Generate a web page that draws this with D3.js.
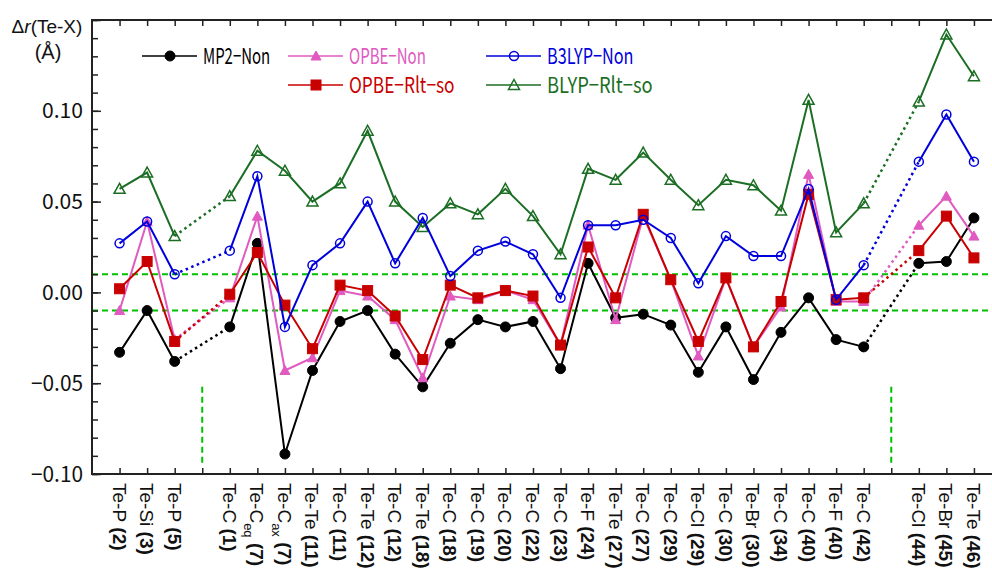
<!DOCTYPE html>
<html>
<head>
<meta charset="utf-8">
<script src="https://cdn.jsdelivr.net/npm/d3@7"></script>
<style>
  body { margin: 0; background: #fff; }
  svg { display: block; }
</style>
</head>
<body>
<svg id="chart"></svg>
<script>
// category labels, "" marks the empty slots between the groups, "_" starts a subscript
var labels = ["Te-P (2)", "Te-Si (3)", "Te-P (5)", "",
  "Te-C (1)", "Te-C_eq (7)", "Te-C_ax (7)", "Te-Te (11)", "Te-C (11)", "Te-Te (12)",
  "Te-C (12)", "Te-Te (18)", "Te-C (18)", "Te-C (19)", "Te-C (20)", "Te-C (22)",
  "Te-C (23)", "Te-F (24)", "Te-Te (27)", "Te-C (27)", "Te-C (29)", "Te-Cl (29)",
  "Te-C (30)", "Te-Br (30)", "Te-C (34)", "Te-C (40)", "Te-F (40)", "Te-C (42)", "",
  "Te-Cl (44)", "Te-Br (45)", "Te-Te (46)"];

var mp2Non = [-0.033, -0.010, -0.038, null, -0.019, 0.027, -0.089, -0.043, -0.016, -0.010,
  -0.034, -0.052, -0.028, -0.015, -0.019, -0.016, -0.042, 0.016, -0.014, -0.012, -0.018,
  -0.044, -0.019, -0.048, -0.022, -0.003, -0.026, -0.030, null, 0.016, 0.017, 0.041];

var opbeNon = [-0.010, 0.039, -0.026, null, -0.003, 0.042, -0.043, -0.036, 0.001, -0.002,
  -0.015, -0.047, -0.002, -0.004, 0.001, -0.004, -0.029, 0.037, -0.015, 0.042, 0.007,
  -0.035, 0.008, -0.030, -0.008, 0.065, -0.005, -0.005, null, 0.037, 0.053, 0.031];

var opbeRlt = [0.002, 0.017, -0.027, null, -0.001, 0.022, -0.007, -0.031, 0.004, 0.001,
  -0.013, -0.037, 0.004, -0.003, 0.001, -0.002, -0.029, 0.025, -0.003, 0.043, 0.007,
  -0.027, 0.008, -0.030, -0.005, 0.054, -0.004, -0.003, null, 0.023, 0.042, 0.019];

var b3lypNon = [0.027, 0.039, 0.010, null, 0.023, 0.064, -0.019, 0.015, 0.027, 0.050,
  0.016, 0.041, 0.009, 0.023, 0.028, 0.021, -0.003, 0.037, 0.037, 0.040, 0.030,
  0.005, 0.031, 0.020, 0.020, 0.057, -0.004, 0.015, null, 0.072, 0.098, 0.072];

var blypRlt = [0.057, 0.066, 0.031, null, 0.053, 0.078, 0.067, 0.050, 0.060, 0.089,
  0.050, 0.036, 0.049, 0.043, 0.057, 0.042, 0.021, 0.068, 0.062, 0.077, 0.062,
  0.048, 0.062, 0.059, 0.045, 0.106, 0.033, 0.049, null, 0.105, 0.142, 0.119];

var yTicks = [-0.10, -0.05, 0.00, 0.05, 0.10];
var yTickLabels = ["-0.10", "-0.05", "0.00", "0.05", "0.10"];
var refLines = [0.01, -0.01];
var gapSlots = [3, 28];

// series in drawing order (bottom first)
var series = [
  {name: "BLYP-Rlt-so", values: blypRlt, color: "#1b6e23", marker: "triangle", open: true, lx: 486, ly: 85},
  {name: "MP2-Non", values: mp2Non, color: "#000000", marker: "circle", open: false, lx: 142, ly: 56},
  {name: "OPBE-Non", values: opbeNon, color: "#e05ac0", marker: "triangle", open: false, lx: 288, ly: 56},
  {name: "OPBE-Rlt-so", values: opbeRlt, color: "#c80000", marker: "square", open: false, lx: 288, ly: 85},
  {name: "B3LYP-Non", values: b3lypNon, color: "#0000dd", marker: "circle", open: true, lx: 486, ly: 56}
];

var width = 992, height = 569;
var svg = d3.select("#chart").attr("width", width).attr("height", height);

var x = d3.scaleLinear().domain([-1, 32]).range([92, 1001.5]);
var y = d3.scaleLinear().domain([-0.10, 0.15]).range([474, 20]);

var gothic = "'Noto Sans CJK JP', sans-serif";
var arial = "'Liberation Sans', Arial, sans-serif";

// reference lines at +-0.01 and the group separators
svg.selectAll(".ref").data(refLines).enter().append("line")
  .attr("x1", x(-1)).attr("x2", x(32))
  .attr("y1", function (d) { return y(d); }).attr("y2", function (d) { return y(d); })
  .style("stroke", "#00c000").style("stroke-width", 2).style("stroke-dasharray", "6,4");

svg.selectAll(".sep").data(gapSlots).enter().append("line")
  .attr("x1", function (d) { return x(d); }).attr("x2", function (d) { return x(d); })
  .attr("y1", y(-0.052)).attr("y2", y(-0.094))
  .style("stroke", "#00c000").style("stroke-width", 2).style("stroke-dasharray", "6,4");

// axes: ticks point inward, no labels from the axis itself
var catTicks = d3.range(0, 32);
svg.append("g").attr("transform", "translate(0," + y(-0.10) + ")")
  .call(d3.axisTop(x).tickValues(catTicks).tickSize(6).tickFormat(""));
svg.append("g").attr("transform", "translate(0," + y(0.15) + ")")
  .call(d3.axisBottom(x).tickValues(catTicks).tickSize(6).tickFormat(""));
svg.append("g").attr("transform", "translate(" + x(-1) + ",0)")
  .call(d3.axisRight(y).tickValues(d3.range(-10, 16).map(function (d) { return d / 100; })).tickSize(6).tickFormat(""));
svg.append("g").attr("transform", "translate(" + x(-1) + ",0)")
  .call(d3.axisRight(y).tickValues(yTicks.concat([0.15])).tickSize(9).tickFormat(""));
svg.selectAll(".domain").remove();
svg.selectAll(".tick line").style("stroke", "#222").style("stroke-width", 1.5);

svg.append("rect")
  .attr("x", x(-1)).attr("y", y(0.15))
  .attr("width", x(32) - x(-1)).attr("height", y(-0.10) - y(0.15))
  .style("fill", "none").style("stroke", "#222").style("stroke-width", 2);

// y tick labels
svg.selectAll(".ylab").data(yTicks).enter().append("text")
  .attr("x", 83).attr("y", function (d) { return y(d); })
  .attr("dy", "0.36em")
  .attr("text-anchor", "end")
  .attr("textLength", function (d, i) { return yTickLabels[i].length === 4 ? 41 : 52; })
  .attr("lengthAdjust", "spacingAndGlyphs")
  .style("font-family", gothic).style("font-size", "21px").style("fill", "#111")
  .text(function (d, i) { return yTickLabels[i].replace("-", "\u2212"); });

// y axis title
var yTitle = svg.append("text").attr("x", 47).attr("y", 33).attr("text-anchor", "middle")
  .style("font-family", arial).style("font-size", "19px").style("fill", "#111");
yTitle.append("tspan").text("\u0394");
yTitle.append("tspan").style("font-style", "italic").text("r");
yTitle.append("tspan").text("(Te-X)");
svg.append("text").attr("x", 48).attr("y", 59).attr("text-anchor", "middle")
  .style("font-family", arial).style("font-size", "20px").style("fill", "#111")
  .text("(\u00c5)");

// x category labels, rotated to read downwards
labels.forEach(function (lab, i) {
  if (lab === "") { return; }
  var parts = lab.split(" ");
  var bond = parts[0].split("_");
  var t = svg.append("text")
    .attr("transform", "translate(" + (x(i) - 7) + ",483) rotate(90)")
    .style("font-family", arial).style("font-size", "19px").style("fill", "#111");
  t.append("tspan").text(bond[0]);
  if (bond.length > 1) {
    t.append("tspan").attr("dy", 6).style("font-size", "13px").text(bond[1]);
    t.append("tspan").attr("dy", -6).text("\u00a0");
  } else {
    t.append("tspan").text("\u00a0");
  }
  t.append("tspan").style("font-weight", "bold").text(parts[1]);
});

// marker drawing helper
function drawMarker(g, type, cx, cy, s) {
  var m;
  if (type === "circle") {
    m = g.append("circle").attr("cx", cx).attr("cy", cy).attr("r", s.open ? 4.5 : 5);
  } else if (type === "square") {
    m = g.append("rect").attr("x", cx - 5).attr("y", cy - 5).attr("width", 10).attr("height", 10);
  } else {
    var h = s.open ? 5.5 : 5;
    m = g.append("path").attr("d", "M" + cx + "," + (cy - h) + "L" + (cx + h) + "," + (cy + h * 0.8) +
      "L" + (cx - h) + "," + (cy + h * 0.8) + "Z");
  }
  m.style("fill", s.open ? "none" : s.color)
    .style("stroke", s.color).style("stroke-width", s.open ? 1.5 : 1);
}

var solidLine = d3.line()
  .defined(function (d) { return d !== null; })
  .x(function (d, i) { return x(i); })
  .y(function (d) { return y(d); });

series.forEach(function (s) {
  var g = svg.append("g");
  // solid runs inside each group
  g.append("path").datum(s.values).attr("d", solidLine)
    .style("fill", "none").style("stroke", s.color).style("stroke-width", 2);
  // dotted joins across the empty slots
  gapSlots.forEach(function (gs) {
    g.append("line")
      .attr("x1", x(gs - 1)).attr("y1", y(s.values[gs - 1]))
      .attr("x2", x(gs + 1)).attr("y2", y(s.values[gs + 1]))
      .style("stroke", s.color).style("stroke-width", 2.5).style("stroke-dasharray", "2.5,3.5");
  });
  s.values.forEach(function (v, i) {
    if (v === null) { return; }
    drawMarker(g, s.marker, x(i), y(v), s);
  });
});

// legend
series.forEach(function (s) {
  var g = svg.append("g");
  g.append("line").attr("x1", s.lx).attr("x2", s.lx + 55).attr("y1", s.ly).attr("y2", s.ly)
    .style("stroke", s.color).style("stroke-width", 1.5);
  drawMarker(g, s.marker, s.lx + 28, s.ly, s);
  g.append("text").attr("x", s.lx + 61).attr("y", s.ly).attr("dy", "0.36em")
    .attr("textLength", s.name.length * 9.6)
    .attr("lengthAdjust", "spacingAndGlyphs")
    .style("font-family", gothic).style("font-size", "22px").style("fill", s.color)
    .text(s.name.replace(/-/g, "\u2212"));
});
</script>
</body>
</html>
